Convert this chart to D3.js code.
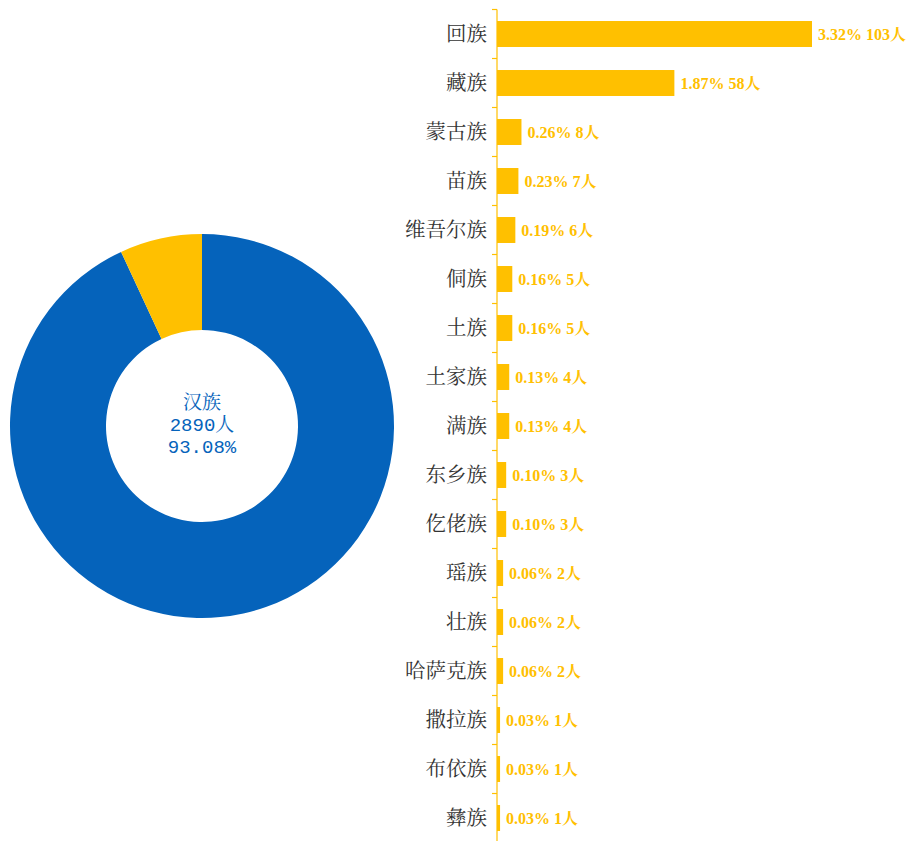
<!DOCTYPE html>
<html>
<head>
<meta charset="utf-8">
<script src="https://cdn.jsdelivr.net/npm/d3@7"></script>
<style>
  body { margin: 0; background: #fff; }
  svg { display: block; }
</style>
</head>
<body>
<svg id="chart" width="913" height="841"></svg>
<script>
// minority groups, shown as bars
var groups = ['回族', '藏族', '蒙古族', '苗族', '维吾尔族', '侗族', '土族', '土家族',
  '满族', '东乡族', '仡佬族', '瑶族', '壮族', '哈萨克族', '撒拉族', '布依族', '彝族'];
var counts = [103, 58, 8, 7, 6, 5, 5, 4, 4, 3, 3, 2, 2, 2, 1, 1, 1];
var shares = ['3.32%', '1.87%', '0.26%', '0.23%', '0.19%', '0.16%', '0.16%', '0.13%',
  '0.13%', '0.10%', '0.10%', '0.06%', '0.06%', '0.06%', '0.03%', '0.03%', '0.03%'];

// donut: majority vs everyone else
var pieNames = ['汉族', '其他'];
var pieCounts = [2890, d3.sum(counts)];
var hanShare = '93.08%';

var blue = '#0563BB';
var gold = '#FFC000';

var svg = d3.select('#chart');

// ---- donut ----
var cx = 202, cy = 426;
var pie = d3.pie().sort(null).value(function(d) { return d; });
var arc = d3.arc().innerRadius(96).outerRadius(192);

var gPie = svg.append('g').attr('transform', 'translate(' + cx + ',' + cy + ')');
gPie.selectAll('path')
  .data(pie(pieCounts))
  .enter()
  .append('path')
  .attr('d', arc)
  .attr('fill', function(d, i) { return i === 0 ? blue : gold; });

var centerLines = [pieNames[0], pieCounts[0] + '人', hanShare];
gPie.selectAll('text')
  .data(centerLines)
  .enter()
  .append('text')
  .attr('text-anchor', 'middle')
  .attr('dominant-baseline', 'central')
  .attr('y', function(d, i) { return (i - 1) * 22; })
  .attr('fill', blue)
  .style('font-family', '"Liberation Mono", "Noto Serif CJK SC", "Noto Sans CJK SC", monospace')
  .style('font-size', '19px')
  .text(function(d) { return d; });

// ---- bars ----
var axisX = 497;
var y = d3.scaleBand()
  .domain(groups)
  .range([9.5, 842.5])
  .paddingInner(0.47)
  .paddingOuter(0.235);

var x = d3.scaleLinear()
  .domain([0, 103])
  .range([axisX, 812]);

var gBars = svg.append('g');

gBars.selectAll('rect')
  .data(groups)
  .enter()
  .append('rect')
  .attr('x', x(0))
  .attr('y', function(d) { return y(d); })
  .attr('width', function(d, i) { return x(counts[i]) - x(0); })
  .attr('height', y.bandwidth())
  .attr('fill', gold);

gBars.selectAll('text.val')
  .data(groups)
  .enter()
  .append('text')
  .attr('class', 'val')
  .attr('x', function(d, i) { return x(counts[i]) + 6; })
  .attr('y', function(d) { return y(d) + y.bandwidth() / 2; })
  .attr('dominant-baseline', 'central')
  .attr('fill', gold)
  .style('font-family', '"Liberation Serif", "Noto Serif CJK SC", "Noto Sans CJK SC", serif')
  .style('font-size', '16px')
  .style('font-weight', 'bold')
  .text(function(d, i) { return shares[i] + ' ' + counts[i] + '人'; });

// category axis: labels at band centres, ticks at band edges
var yAxis = d3.axisLeft(y).tickSize(0).tickPadding(10);
var gAxis = svg.append('g')
  .attr('transform', 'translate(' + axisX + ',0)')
  .call(yAxis);
gAxis.select('.domain').remove();
gAxis.selectAll('text')
  .attr('fill', '#333')
  .style('font-family', '"Noto Serif CJK SC", "Noto Sans CJK SC", serif')
  .style('font-size', '20.5px');

var edges = groups.map(function(d) { return y(d) - y.step() * y.paddingInner() / 2; });
edges.push(y.range()[1]);

gAxis.append('line')
  .attr('x1', 0).attr('x2', 0)
  .attr('y1', edges[0]).attr('y2', edges[edges.length - 1])
  .attr('stroke', gold)
  .attr('stroke-width', 1.2);

gAxis.selectAll('line.edge')
  .data(edges)
  .enter()
  .append('line')
  .attr('class', 'edge')
  .attr('x1', -5).attr('x2', 0)
  .attr('y1', function(d) { return d; })
  .attr('y2', function(d) { return d; })
  .attr('stroke', gold)
  .attr('stroke-width', 1.2);
</script>
</body>
</html>
